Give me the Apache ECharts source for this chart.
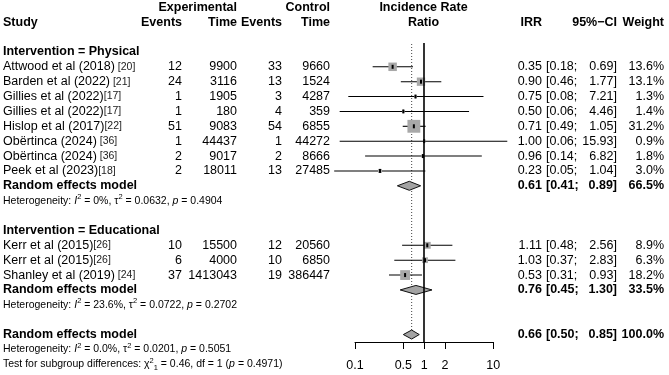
<!DOCTYPE html>
<html>
<head>
<meta charset="utf-8">
<script src="https://cdn.jsdelivr.net/npm/echarts@6/dist/echarts.min.js"></script>
<style>
html, body { margin: 0; padding: 0; background: #fff; }
#main { width: 669px; height: 375px; }
</style>
</head>
<body>
<div id="main"></div>
<script>
// ---- data ----
var groupNames = ['Intervention = Physical', 'Intervention = Educational'];
var studyGroup = [0, 0, 0, 0, 0, 0, 0, 0, 1, 1, 1];
var studyNames = ['Attwood et al (2018)', 'Barden et al (2022)', 'Gillies et al (2022)', 'Gillies et al (2022)',
                  'Hislop et al (2017)', 'Obërtinca (2024)', 'Obërtinca (2024)', 'Peek et al (2023)',
                  'Kerr et al (2015)', 'Kerr et al (2015)', 'Shanley et al (2019)'];
var studyRefs = [' [20]', ' [21]', '[17]', '[17]', '[22]', ' [36]', ' [36]', '[18]', '[26]', '[26]', ' [24]'];
var expEvents = [12, 24, 1, 1, 51, 1, 2, 2, 10, 6, 37];
var expTime = [9900, 3116, 1905, 180, 9083, 44437, 9017, 18011, 15500, 4000, 1413043];
var ctlEvents = [33, 13, 3, 4, 54, 1, 2, 13, 12, 10, 19];
var ctlTime = [9660, 1524, 4287, 359, 6855, 44272, 8666, 27485, 20560, 6850, 386447];
var irr = [0.35, 0.90, 0.75, 0.50, 0.71, 1.00, 0.96, 0.23, 1.11, 1.03, 0.53];
var ciLow = [0.18, 0.46, 0.08, 0.06, 0.49, 0.06, 0.14, 0.05, 0.48, 0.37, 0.31];
var ciHigh = [0.69, 1.77, 7.21, 4.46, 1.05, 15.93, 6.82, 1.04, 2.56, 2.83, 0.93];
var weight = [13.6, 13.1, 1.3, 1.4, 31.2, 0.9, 1.8, 3.0, 8.9, 6.3, 18.2];

// random effects models: physical, educational, overall
var reIrr = [0.61, 0.76, 0.66];
var reLow = [0.41, 0.45, 0.50];
var reHigh = [0.89, 1.30, 0.85];
var reWeight = [66.5, 33.5, 100.0];
var hetI2 = ['0%', '23.6%', '0.0%'];
var hetTau2 = ['0.0632', '0.0722', '0.0201'];
var hetP = ['0.4904', '0.2702', '0.5051'];
var testChi2 = '0.46';
var testDf = '1';
var testP = '0.4971';

var axisTicks = [0.1, 0.5, 1, 2, 10];

// ---- layout ----
var FONT = '"Liberation Sans", Arial, Helvetica, sans-serif';
var FS = 12.5;
var COL = { name: 3, expEv: 182, expTime: 237, ctlEv: 282, ctlTime: 330, plot: 423.5,
            irr: 542, ciL: 546, ciR: 617, weight: 664 };

var rows = [];
rows.push({ kind: 'head1' }, { kind: 'head2' }, { kind: 'blank' });
groupNames.forEach(function (g, gi) {
  rows.push({ kind: 'group', g: gi });
  studyNames.forEach(function (n, si) {
    if (studyGroup[si] === gi) rows.push({ kind: 'study', s: si });
  });
  rows.push({ kind: 're', r: gi }, { kind: 'het', r: gi }, { kind: 'blank' });
});
rows.push({ kind: 're', r: 2 }, { kind: 'het', r: 2 }, { kind: 'test' });

var RICH = {
  n: { fontFamily: FONT, fontSize: FS, fill: '#000', lineHeight: 15 },
  r: { fontFamily: FONT, fontSize: 10.5, fill: '#222', lineHeight: 15 },
  h: { fontFamily: FONT, fontSize: 10.5, fill: '#000', lineHeight: 15 },
  i: { fontFamily: FONT, fontSize: 10.5, fontStyle: 'italic', fill: '#000', lineHeight: 15 },
  s: { fontFamily: FONT, fontSize: 7.5, fill: '#000', lineHeight: 9, verticalAlign: 'top' },
  u: { fontFamily: FONT, fontSize: 7.5, fill: '#000', lineHeight: 9, verticalAlign: 'bottom' }
};

function cell(x, text, align, bold, rich) {
  return { x: x, text: text, align: align, bold: bold, rich: rich };
}

function rowCells(row) {
  var c = [];
  if (row.kind === 'head1') {
    c.push(cell(COL.expTime, 'Experimental', 'right', true));
    c.push(cell(COL.ctlTime, 'Control', 'right', true));
    c.push(cell(COL.plot, 'Incidence Rate', 'center', true));
  } else if (row.kind === 'head2') {
    c.push(cell(COL.name, 'Study', 'left', true));
    c.push(cell(COL.expEv, 'Events', 'right', true));
    c.push(cell(COL.expTime, 'Time', 'right', true));
    c.push(cell(COL.ctlEv, 'Events', 'right', true));
    c.push(cell(COL.ctlTime, 'Time', 'right', true));
    c.push(cell(COL.plot, 'Ratio', 'center', true));
    c.push(cell(COL.irr, 'IRR', 'right', true));
    c.push(cell(COL.ciR, '95%\u2212CI', 'right', true));
    c.push(cell(COL.weight, 'Weight', 'right', true));
  } else if (row.kind === 'group') {
    c.push(cell(COL.name, groupNames[row.g], 'left', true));
  } else if (row.kind === 'study') {
    var s = row.s;
    c.push(cell(COL.name, '{n|' + studyNames[s] + '}{r|' + studyRefs[s] + '}', 'left', false, true));
    c.push(cell(COL.expEv, String(expEvents[s]), 'right'));
    c.push(cell(COL.expTime, String(expTime[s]), 'right'));
    c.push(cell(COL.ctlEv, String(ctlEvents[s]), 'right'));
    c.push(cell(COL.ctlTime, String(ctlTime[s]), 'right'));
    c.push(cell(COL.irr, irr[s].toFixed(2), 'right'));
    c.push(cell(COL.ciL, '[' + ciLow[s].toFixed(2) + ';', 'left'));
    c.push(cell(COL.ciR, ciHigh[s].toFixed(2) + ']', 'right'));
    c.push(cell(COL.weight, weight[s].toFixed(1) + '%', 'right'));
  } else if (row.kind === 're') {
    var r = row.r;
    c.push(cell(COL.name, 'Random effects model', 'left', true));
    c.push(cell(COL.irr, reIrr[r].toFixed(2), 'right', true));
    c.push(cell(COL.ciL, '[' + reLow[r].toFixed(2) + ';', 'left', true));
    c.push(cell(COL.ciR, reHigh[r].toFixed(2) + ']', 'right', true));
    c.push(cell(COL.weight, reWeight[row.r].toFixed(1) + '%', 'right', true));
  } else if (row.kind === 'het') {
    c.push(cell(COL.name, '{h|Heterogeneity: }{i|I}{s|2}{h| = ' + hetI2[row.r] + ', \u03c4}{s|2}{h| = ' +
      hetTau2[row.r] + ', }{i|p}{h| = ' + hetP[row.r] + '}', 'left', false, true));
  } else if (row.kind === 'test') {
    c.push(cell(COL.name, '{h|Test for subgroup differences: \u03c7}{s|2}{u|1}{h| = ' + testChi2 +
      ', df = ' + testDf + ' (}{i|p}{h| = ' + testP + ')}', 'left', false, true));
  }
  return c;
}

var studyData = [], diamondData = [];
rows.forEach(function (row, i) {
  if (row.kind === 'study') {
    var s = row.s;
    studyData.push([irr[s], i, ciLow[s], ciHigh[s], weight[s]]);
  } else if (row.kind === 're') {
    diamondData.push([reIrr[row.r], i, reLow[row.r], reHigh[row.r]]);
  }
});
var overallRow = diamondData[diamondData.length - 1][1];

var myChart = echarts.init(document.getElementById('main'));

var option = {
  animation: false,
  backgroundColor: '#fff',
  textStyle: { fontFamily: FONT },
  grid: { left: 355, right: 175.7, top: 43, bottom: 33 },
  xAxis: {
    type: 'log',
    logBase: 10,
    min: 0.1,
    max: 10,
    axisLine: { show: true, lineStyle: { color: '#000', width: 1 } },
    axisTick: { show: true, customValues: axisTicks, length: 7, lineStyle: { color: '#000', width: 1 } },
    minorTick: { show: false },
    splitLine: { show: false },
    axisLabel: {
      customValues: axisTicks,
      color: '#000',
      fontSize: FS,
      fontFamily: FONT,
      margin: 17,
      formatter: function (v) { return String(+Number(v).toPrecision(3)); }
    }
  },
  yAxis: { type: 'value', inverse: true, min: 2.4, max: 22.5, show: false },
  series: [
    {
      // table text
      type: 'custom',
      silent: true,
      clip: false,
      encode: { x: 0, y: 1 },
      data: rows.map(function (r, i) { return [1, i]; }),
      renderItem: function (params, api) {
        var y = api.coord([1, api.value(1)])[1];
        var cells = rowCells(rows[params.dataIndex]);
        return {
          type: 'group',
          children: cells.map(function (c) {
            return {
              type: 'text',
              style: {
                x: c.x, y: y, text: c.text,
                align: c.align, verticalAlign: 'middle',
                fontFamily: FONT, fontSize: FS, fontWeight: c.bold ? 'bold' : 'normal',
                fill: '#000',
                rich: c.rich ? RICH : undefined
              }
            };
          })
        };
      },
      z: 5
    },
    {
      // dotted line at overall estimate
      type: 'custom',
      silent: true,
      clip: false,
      encode: { x: 0, y: 1 },
      data: [[reIrr[2], overallRow]],
      renderItem: function (params, api) {
        var p = api.coord([api.value(0), api.value(1)]);
        return {
          type: 'line',
          shape: { x1: p[0], y1: params.coordSys.y + 1, x2: p[0], y2: p[1] },
          style: { stroke: '#444', lineWidth: 1, lineDash: [1, 2] }
        };
      },
      z: 1
    },
    {
      // study CIs and weighted squares
      type: 'custom',
      silent: true,
      clip: false,
      encode: { x: 0, y: 1 },
      data: studyData,
      renderItem: function (params, api) {
        var row = api.value(1);
        var c = api.coord([api.value(0), row]);
        var lo = api.coord([api.value(2), row]);
        var hi = api.coord([api.value(3), row]);
        var side = 2.3 * Math.sqrt(api.value(4));
        return {
          type: 'group',
          children: [
            { type: 'line', shape: { x1: lo[0], y1: c[1], x2: hi[0], y2: c[1] },
              style: { stroke: '#000', lineWidth: 1.1 } },
            { type: 'rect', shape: { x: c[0] - side / 2, y: c[1] - side / 2, width: side, height: side },
              style: { fill: '#a8a8a8' } },
            { type: 'rect', shape: { x: c[0] - 1, y: c[1] - 2, width: 2, height: 4 },
              style: { fill: '#000' } }
          ]
        };
      },
      markLine: {
        silent: true,
        symbol: 'none',
        label: { show: false },
        lineStyle: { color: '#000', width: 1.6, type: 'solid' },
        data: [{ xAxis: 1 }]
      },
      z: 3
    },
    {
      // random effects diamonds
      type: 'custom',
      silent: true,
      clip: false,
      encode: { x: 0, y: 1 },
      data: diamondData,
      renderItem: function (params, api) {
        var row = api.value(1);
        var c = api.coord([api.value(0), row]);
        var lo = api.coord([api.value(2), row]);
        var hi = api.coord([api.value(3), row]);
        var h = 4.5;
        return {
          type: 'polygon',
          shape: { points: [[lo[0], c[1]], [c[0], c[1] - h], [hi[0], c[1]], [c[0], c[1] + h]] },
          style: { fill: '#a3a3a3', stroke: '#111', lineWidth: 1 }
        };
      },
      z: 4
    }
  ]
};

myChart.setOption(option);
</script>
</body>
</html>
